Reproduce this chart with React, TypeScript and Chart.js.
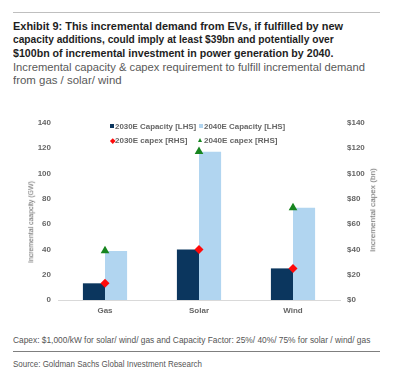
import React, { useEffect, useLayoutEffect, useRef, useState } from "react";
import { Chart, registerables } from "chart.js";

Chart.register(...registerables);

const categories = ["Gas", "Solar", "Wind"];
const capacity2030 = [13.2, 40, 25];
const capacity2040 = [38.8, 117.3, 73];
const capex2030 = [13.2, 40, 25];
const capex2040 = [39, 117.5, 73];
const axisTicks = [0, 20, 40, 60, 80, 100, 120, 140];

const NAVY = "#0B365E";
const LIGHT = "#B1D5F0";
const RED = "#FF0A0A";
const GREEN = "#17851F";
const ARIAL = '"Liberation Sans", Arial, sans-serif';

function useFitScale(width: number, deps: any[]) {
  const ref = useRef<HTMLDivElement>(null);
  const [scale, setScale] = useState(1);
  useLayoutEffect(() => {
    const measure = () => {
      if (!ref.current) return;
      const w = ref.current.scrollWidth;
      if (w > 0) setScale(width / w);
    };
    measure();
    const fonts = (document as any).fonts;
    if (fonts && fonts.ready) fonts.ready.then(measure);
  }, deps);
  return { ref, scale };
}

type FitProps = {
  text: string;
  left: number;
  top: number;
  width: number;
  size: number;
  lineHeight?: number;
  bold?: boolean;
  color: string;
};

function FitText({ text, left, top, width, size, lineHeight, bold, color }: FitProps) {
  const { ref, scale } = useFitScale(width, [text, width, size]);
  return (
    <div
      ref={ref}
      style={{
        position: "absolute",
        left,
        top,
        fontFamily: ARIAL,
        fontSize: size + "px",
        lineHeight: (lineHeight ?? size * 1.2) + "px",
        fontWeight: bold ? "bold" : "normal",
        color,
        whiteSpace: "nowrap",
        transform: `scaleX(${scale})`,
        transformOrigin: "0 0",
      }}
    >
      {text}
    </div>
  );
}

type RotProps = { text: string; cx: number; cy: number; length: number; size: number; color: string };

function RotText({ text, cx, cy, length, size, color }: RotProps) {
  const { ref, scale } = useFitScale(length, [text, length, size]);
  return (
    <div
      ref={ref}
      style={{
        position: "absolute",
        left: cx,
        top: cy,
        fontFamily: ARIAL,
        fontSize: size + "px",
        lineHeight: size * 1.2 + "px",
        color,
        whiteSpace: "nowrap",
        transform: `translate(-50%, -50%) rotate(-90deg) scaleX(${scale})`,
      }}
    >
      {text}
    </div>
  );
}

export default function App() {
  const ref = useRef<HTMLCanvasElement>(null);

  useEffect(() => {
    if (!ref.current) return;
    const tickFont = { family: ARIAL, size: 8, weight: "bold" };
    const tickColor = "#666666";
    const chart = new Chart(ref.current, {
      data: {
        labels: categories,
        datasets: [
          {
            type: "line",
            label: "2030E capex [RHS]",
            data: capex2030,
            yAxisID: "y2",
            showLine: false,
            pointStyle: "rectRot",
            pointRadius: 4.5,
            backgroundColor: RED,
            borderColor: RED,
            borderWidth: 0,
            order: 0,
          },
          {
            type: "line",
            label: "2040E capex [RHS]",
            data: capex2040,
            yAxisID: "y2",
            showLine: false,
            pointStyle: "triangle",
            pointRadius: 5,
            backgroundColor: GREEN,
            borderColor: GREEN,
            borderWidth: 0,
            order: 0,
          },
          {
            type: "bar",
            label: "2030E Capacity [LHS]",
            data: capacity2030,
            yAxisID: "y",
            backgroundColor: NAVY,
            categoryPercentage: 0.47,
            barPercentage: 1,
            order: 1,
          },
          {
            type: "bar",
            label: "2040E Capacity [LHS]",
            data: capacity2040,
            yAxisID: "y",
            backgroundColor: LIGHT,
            categoryPercentage: 0.47,
            barPercentage: 1,
            order: 1,
          },
        ],
      },
      options: {
        animation: false,
        responsive: false,
        maintainAspectRatio: false,
        layout: { padding: { top: 23, left: 0, right: 0, bottom: 0 } },
        plugins: { legend: { display: false }, tooltip: { enabled: false } },
        scales: {
          x: {
            grid: { display: false, drawTicks: false },
            border: { display: true, color: "#D9D9D9", width: 1 },
            ticks: { padding: 6, color: tickColor, font: tickFont },
            afterFit: (s: any) => {
              s.height = 20;
            },
          },
          y: {
            position: "left",
            min: 0,
            max: 140,
            afterBuildTicks: (s: any) => {
              s.ticks = axisTicks.map((v) => ({ value: v }));
            },
            grid: { display: false, drawTicks: false },
            border: { display: false },
            ticks: { padding: 7, color: tickColor, font: tickFont },
            afterFit: (s: any) => {
              s.width = 58;
            },
          },
          y2: {
            position: "right",
            min: 0,
            max: 140,
            afterBuildTicks: (s: any) => {
              s.ticks = axisTicks.map((v) => ({ value: v }));
            },
            grid: { display: false, drawTicks: false },
            border: { display: false },
            ticks: {
              padding: 7,
              color: tickColor,
              font: tickFont,
              callback: (v: any) => "$" + v,
            },
            afterFit: (s: any) => {
              s.width = 57;
            },
          },
        },
      },
    } as any);
    return () => chart.destroy();
  }, []);

  return (
    <div style={{ position: "absolute", left: 0, top: 0, width: 397, height: 376, background: "#fff", overflow: "hidden" }}>
      <div style={{ position: "absolute", left: 13, top: 12, width: 367, height: 1, background: "#BFBFBF" }} />

      <FitText text="Exhibit 9: This incremental demand from EVs, if fulfilled by new" left={13} top={20} width={330} size={11.5} lineHeight={13.3} bold color="#1E1E1E" />
      <FitText text="capacity additions, could imply at least $39bn and potentially over" left={13} top={33.3} width={321} size={11.5} lineHeight={13.3} bold color="#1E1E1E" />
      <FitText text="$100bn of incremental investment in power generation by 2040." left={13} top={46.6} width={320} size={11.5} lineHeight={13.3} bold color="#1E1E1E" />
      <FitText text="Incremental capacity & capex requirement to fulfill incremental demand" left={13} top={60.6} width={352} size={10.8} lineHeight={13.3} color="#595959" />
      <FitText text="from gas / solar/ wind" left={13} top={73.9} width={109} size={10.8} lineHeight={13.3} color="#595959" />

      <canvas ref={ref} width={397} height={220} style={{ position: "absolute", left: 0, top: 100, width: 397, height: 220 }} />

      <RotText text="Incremental caapcity (GW)" cx={31} cy={222} length={82} size={8} color="#666666" />
      <RotText text="Incremental capex (bn)" cx={373} cy={210} length={84} size={8} color="#666666" />

      {/* legend */}
      <div style={{ position: "absolute", left: 110, top: 124, width: 4, height: 4, background: NAVY }} />
      <FitText text="2030E Capacity [LHS]" left={115} top={121.5} width={81} size={8} lineHeight={9} bold color="#666666" />
      <div style={{ position: "absolute", left: 199, top: 124, width: 4, height: 4, background: LIGHT }} />
      <FitText text="2040E Capacity [LHS]" left={204} top={121.5} width={81} size={8} lineHeight={9} bold color="#666666" />
      <div style={{ position: "absolute", left: 110.5, top: 138.5, width: 3.5, height: 3.5, background: RED, transform: "rotate(45deg)" }} />
      <FitText text="2030E capex [RHS]" left={115} top={135.5} width={72} size={8} lineHeight={9} bold color="#666666" />
      <div
        style={{
          position: "absolute",
          left: 198,
          top: 137.5,
          width: 0,
          height: 0,
          borderLeft: "2.5px solid transparent",
          borderRight: "2.5px solid transparent",
          borderBottom: "4.5px solid " + GREEN,
        }}
      />
      <FitText text="2040E capex [RHS]" left={204} top={135.5} width={73} size={8} lineHeight={9} bold color="#666666" />

      {/* footnotes */}
      <FitText text="Capex: $1,000/kW for solar/ wind/ gas and Capacity Factor: 25%/ 40%/ 75% for solar / wind/ gas" left={13} top={334.5} width={357} size={8.6} lineHeight={10} color="#555555" />
      <div style={{ position: "absolute", left: 13, top: 351, width: 367, height: 1, background: "#7F7F7F" }} />
      <FitText text="Source: Goldman Sachs Global Investment Research" left={13} top={358.5} width={189} size={8.6} lineHeight={10} color="#555555" />
    </div>
  );
}
